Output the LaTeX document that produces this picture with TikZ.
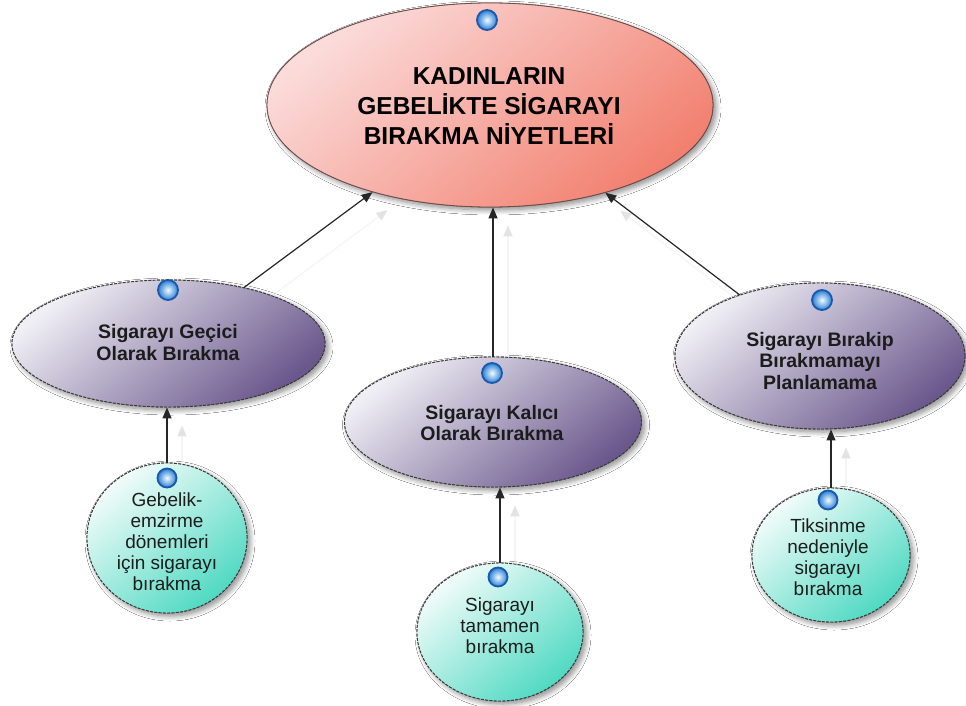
\documentclass[tikz,border=0pt]{standalone}
\usepackage{fontspec}
\setmainfont{Liberation Sans}
\usetikzlibrary{shapes.geometric,arrows.meta,shadows.blur}

\definecolor{mainLight}{HTML}{FBDCDB}
\definecolor{mainMid}{HTML}{F9BDB7}
\definecolor{mainDark}{HTML}{F2806F}
\definecolor{mainRim}{HTML}{6E4A4A}
\definecolor{purLight}{HTML}{F0EFF5}
\definecolor{purMid}{HTML}{C9C2DA}
\definecolor{purDark}{HTML}{6A578C}
\definecolor{cyLight}{HTML}{F2FCFA}
\definecolor{cyMid}{HTML}{B5EEE4}
\definecolor{cyDark}{HTML}{4FD9C2}
\definecolor{rimGray}{HTML}{3A3A3A}
\definecolor{bubIn}{HTML}{F2FBFF}
\definecolor{bubOut}{HTML}{2A80D6}
\definecolor{bubRim}{HTML}{1A58AA}
\definecolor{inkText}{HTML}{1C1C1C}

\begin{document}
\begin{tikzpicture}[x=1pt,y=-1pt,
  softshadow/.style={blur shadow={shadow xshift=3pt,shadow yshift=-3pt,
      shadow blur steps=8,shadow blur radius=5pt,shadow opacity=25}},
  topic/.style={ellipse,inner sep=0pt,draw=mainRim,line width=0.8pt,softshadow,
      top color=mainLight,middle color=mainMid,bottom color=mainDark,shading angle=40},
  theme/.style={ellipse,inner sep=0pt,draw=rimGray,line width=0.9pt,
      dash pattern=on 3pt off 1.3pt,softshadow,
      top color=purLight,middle color=purMid,bottom color=purDark,shading angle=40},
  subtheme/.style={ellipse,inner sep=0pt,draw=rimGray,line width=0.9pt,
      dash pattern=on 3pt off 1.3pt,softshadow,
      top color=cyLight,middle color=cyMid,bottom color=cyDark,shading angle=40},
  bubble/.style={circle,minimum size=20pt,inner sep=0pt,draw=bubRim,line width=1.8pt,
      inner color=bubIn,outer color=bubOut},
  titletext/.style={align=center,inner sep=0pt,text=black,
      font=\fontsize{24.5}{30}\selectfont\bfseries},
  themetext/.style={align=center,inner sep=0pt,text=inkText,
      font=\fontsize{19.5}{21.5}\selectfont\bfseries},
  subtext/.style={align=center,inner sep=0pt,text=inkText,
      font=\fontsize{19}{21}\selectfont},
  link/.style={draw=black!85,line width=1.2pt,-{Triangle[length=11pt,width=9pt]}},
  ghost/.style={draw=black!4,line width=1.2pt,
      -{Triangle[length=11pt,width=9pt,color=black!11,fill=black!11]},
      transform canvas={xshift=15pt,yshift=-18pt}}
]
\useasboundingbox[fill=white] (0,0) rectangle (966,706);

% ellipse outlines (shapes only; texts are placed separately)
\node[topic,minimum width=446pt,minimum height=204pt] (main) at (490,105) {};
\node[theme,minimum width=313pt,minimum height=127pt] (lp) at (168.5,343.5) {};
\node[theme,minimum width=297pt,minimum height=130pt] (mp) at (493,422) {};
\node[theme,minimum width=290pt,minimum height=146pt] (rp) at (820,356) {};
\node[subtheme,minimum width=160pt,minimum height=150pt] (lc) at (167,538) {};
\node[subtheme,minimum width=166pt,minimum height=138pt] (mc) at (500,632) {};
\node[subtheme,minimum width=158pt,minimum height=134pt] (rc) at (831,555) {};

% faint offset shadows of the connectors
\path[ghost] (lp) -- (main);
\path[ghost] (mp.north) -- (mp.north |- main.south);
\path[ghost] (rp) -- (main);
\path[ghost] (lc.north) -- (lc.north |- lp.south);
\path[ghost] (mc.north) -- (mc.north |- mp.south);
\path[ghost] (rc.north) -- (rc.north |- rp.south);

% redraw shapes above the faint shadows
\node[topic,minimum width=446pt,minimum height=204pt] (mainF) at (490,105) {};
\node[theme,minimum width=313pt,minimum height=127pt] (lpF) at (168.5,343.5) {};
\node[theme,minimum width=297pt,minimum height=130pt] (mpF) at (493,422) {};
\node[theme,minimum width=290pt,minimum height=146pt] (rpF) at (820,356) {};
\node[subtheme,minimum width=160pt,minimum height=150pt] (lcF) at (167,538) {};
\node[subtheme,minimum width=166pt,minimum height=138pt] (mcF) at (500,632) {};
\node[subtheme,minimum width=158pt,minimum height=134pt] (rcF) at (831,555) {};

% connectors
\path[link] (lp) -- (main);
\path[link] (mp.north) -- (mp.north |- main.south);
\path[link] (rp) -- (main);
\path[link] (lc.north) -- (lc.north |- lp.south);
\path[link] (mc.north) -- (mc.north |- mp.south);
\path[link] (rc.north) -- (rc.north |- rp.south);

% texts
\node[titletext] (tmain) at (489,106.5) {KADINLARIN\\GEBELİKTE SİGARAYI\\BIRAKMA NİYETLERİ};
\node[themetext] (tlp) at (168,342.5) {Sigarayı Geçici\\Olarak Bırakma};
\node[themetext] (tmp) at (492,423) {Sigarayı Kalıcı\\Olarak Bırakma};
\node[themetext] (trp) at (820,361) {Sigarayı Bırakip\\Bırakmamayı\\Planlamama};
\node[subtext] (tlc) at (167,542) {Gebelik-\\emzirme\\dönemleri\\için sigarayı\\bırakma};
\node[subtext] (tmc) at (500,625.5) {Sigarayı\\tamamen\\bırakma};
\node[subtext] (trc) at (828,557.5) {Tiksinme\\nedeniyle\\sigarayı\\bırakma};

% blue markers
\node[bubble] (bmain) at (487,20) {};
\node[bubble] (blp) at (168,290) {};
\node[bubble] (bmp) at (492,373) {};
\node[bubble] (brp) at (822,300) {};
\node[bubble,minimum size=19pt] (blc) at (167,478) {};
\node[bubble,minimum size=19pt] (bmc) at (498,577) {};
\node[bubble,minimum size=19pt] (brc) at (828,500) {};
\end{tikzpicture}
\end{document}
